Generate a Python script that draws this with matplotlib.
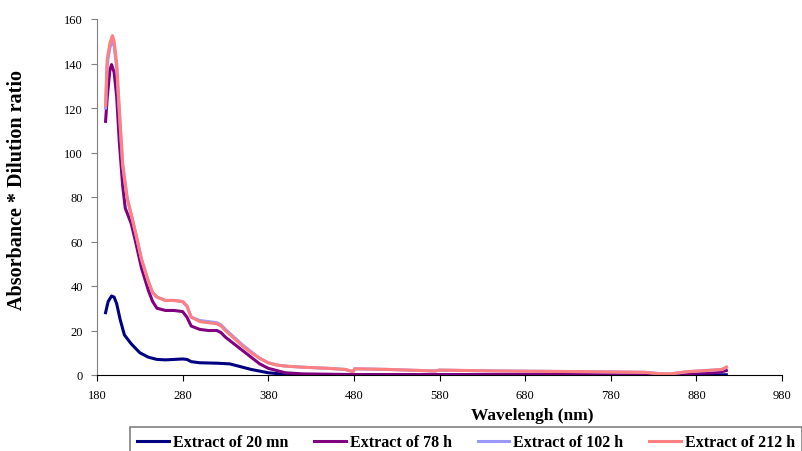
import matplotlib.pyplot as plt
import numpy as np

plt.rcParams['font.family'] = ['Liberation Serif', 'DejaVu Serif']

wl_20 = [190, 193, 197, 200, 203, 207, 212, 220, 230, 240, 250, 260, 270, 280,
         285, 290, 300, 320, 335, 345, 360, 380, 400, 450, 600, 800, 915]
ab_20 = [28, 33, 35.5, 35, 32, 25, 18, 14, 10, 8, 7, 6.8, 7, 7.2,
         7, 6, 5.5, 5.3, 5, 4, 2.5, 1, 0.3, 0.1, 0.05, 0.05, 0.1]

wl_78 = [190, 192, 195, 197, 200, 203, 206, 210, 213, 220, 225, 232, 240, 245,
         250, 260, 270, 280, 285, 290, 300, 310, 320, 325, 330, 340, 350, 360,
         370, 380, 390, 400, 420, 480, 700, 850, 880, 900, 910, 915]
ab_78 = [114, 125, 137, 139.5, 136, 125, 105, 85, 75, 68, 60, 48, 38, 33,
         30, 29, 29, 28.5, 26, 22, 20.5, 20, 20, 19, 17, 14, 11, 8,
         5, 3, 2, 1, 0.5, 0.2, 0.2, 0.3, 0.8, 1, 1.5, 2]

wl_hi = [190, 192, 195, 198, 200, 203, 206, 210, 215, 220, 225, 232, 240, 245,
         250, 260, 270, 280, 285, 290, 300, 310, 320, 325, 330, 340, 350, 360,
         370, 380, 390, 400, 420, 450, 470, 479, 481, 520, 575, 580, 650, 750,
         820, 840, 850, 870, 900, 910, 915]
ab_102 = [120, 140, 147, 150, 148, 138, 118, 94, 80, 72, 64, 52, 42, 37,
          35, 33.5, 33.5, 33, 31, 26, 24.5, 24, 23.5, 22.5, 20.5, 17, 13.5, 10.5,
          7.5, 5.5, 4.5, 4, 3.5, 3, 2.5, 1.5, 2.8, 2.5, 1.8, 2.2, 1.8, 1.5,
          1.2, 0.5, 0.5, 1.5, 2.2, 2.5, 3.5]
ab_212 = [121, 142, 149, 152.5, 150, 140, 120, 95, 80, 72, 64, 52, 42, 37,
          35, 33.5, 33.5, 33, 31, 26, 24, 23.5, 23, 22, 20, 16.5, 13, 10,
          7.5, 5.5, 4.5, 4, 3.5, 3, 2.5, 1.5, 2.8, 2.5, 1.8, 2.2, 1.8, 1.5,
          1.2, 0.5, 0.5, 1.5, 2.2, 2.5, 3.5]

labels = ["Extract of 20 mn", "Extract of 78 h", "Extract of 102 h", "Extract of 212 h"]
colors = ["#000080", "#800080", "#9999ff", "#ff8080"]

fig = plt.figure(figsize=(8.02, 4.52), dpi=100)
ax = fig.add_axes([97 / 802, 76 / 452, 685 / 802, 356 / 452])

ax.plot(wl_20, ab_20, color=colors[0], lw=2.2, label=labels[0])
ax.plot(wl_78, ab_78, color=colors[1], lw=2.2, label=labels[1])
ax.plot(wl_hi, ab_102, color=colors[2], lw=2.2, label=labels[2])
ax.plot(wl_hi, ab_212, color=colors[3], lw=2.2, label=labels[3])

ax.set_xlim(180, 980)
ax.set_ylim(0, 160)
ax.set_xticks(np.arange(180, 981, 100))
ax.set_yticks(np.arange(0, 161, 20))
for s in ["top", "right"]:
    ax.spines[s].set_visible(False)
ax.spines["left"].set_color("#808080")
ax.spines["bottom"].set_color("black")
ax.tick_params(direction="out", length=4, labelsize=9, pad=6)
ax.tick_params(axis="y", colors="#808080", labelcolor="black")

fig.text(532 / 802, 1 - 416 / 452, "Wavelengh (nm)", ha="center", va="center",
         fontsize=12.5, fontweight="bold")
fig.text(17 / 802, 1 - 190 / 452, "Absorbance * Dilution ratio", ha="center",
         va="center", rotation=90, fontsize=14.5, fontweight="bold")

leg = fig.legend(loc="upper left", bbox_to_anchor=(130 / 802, 1 - 428 / 452), ncol=4,
                 frameon=True, fancybox=False, handlelength=2.0, handletextpad=0.25,
                 columnspacing=1.6, prop={"weight": "bold", "size": 11.5},
                 borderpad=0.45, borderaxespad=0)
leg.get_frame().set_edgecolor("#606060")
leg.get_frame().set_linewidth(1.2)

fig.savefig("out.png", dpi=100)
